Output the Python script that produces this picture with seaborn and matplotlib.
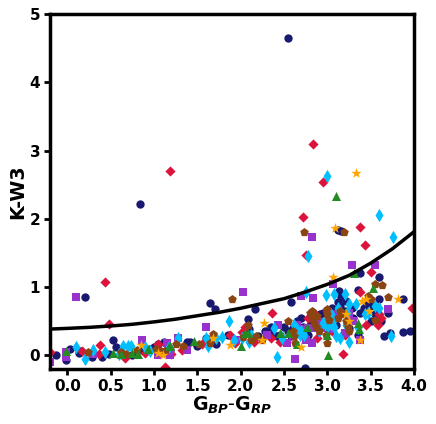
import matplotlib
matplotlib.use("Agg")
import matplotlib.pyplot as plt
import seaborn as sns
import pandas as pd

navy = [(2.55,4.65),(0.84,2.22),(0.2,0.85),(3.12,1.84),(3.16,1.82),(1.65,.77),(1.7,.68),(2.17,.68),(2.58,.78),(3.38,1.2),(3.6,1.15),(3.35,.95),(3.87,.82),(3.7,.62),(3.65,.28),(3.72,.33),(3.87,.34),(3.95,.36),(3.62,.5),(3.14,.94),(3.16,.85),(3.12,.78),(-.13,0),(-.02,-.07),(.03,.1),(.14,.03),(.16,.06),(.28,-.02),(.4,-.02),(.48,.02),(.53,.23),(.56,.12),(.62,.03),(.75,.0),(.86,.08),(.95,.1),(1.0,.12),(1.05,.16),(1.12,.2),(1.16,.14),(1.18,.08),(1.38,.19),(1.42,.19),(1.5,.14),(1.6,.25),(1.72,.16),(1.85,.3),(2.1,.38),(2.08,.53),(2.2,.28),(2.28,.36),(2.34,.4),(2.36,.33),(2.42,.28),(2.45,.3),(2.55,.35),(2.6,.4),(2.65,.5),(2.7,.55),(2.72,.42),(2.72,.3),(2.74,-.18),(2.8,.45),(2.85,.55),(2.9,.4),(2.95,.62),(3.0,.5),(3.05,.7),(3.08,.55),(3.1,.45),(3.2,.65),(3.25,.4),(3.3,.55),(3.35,.3),(3.42,.7),(3.5,.5),(3.55,.6),(3.6,.82),(2.35,.42),(2.5,.42),(2.58,.28),(2.78,.3),(2.92,.6),(3.15,.72),(3.22,.8),(3.28,.7),(3.38,.62),(3.45,.78),(3.5,.72)]
crimson = [(1.18,2.7),(2.83,3.09),(2.95,2.54),(2.72,2.02),(3.38,1.88),(2.75,1.47),(3.44,1.61),(.43,1.07),(.48,.46),(3.5,1.22),(3.98,.7),(3.18,.02),(1.13,-.17),(-.2,.05),(.17,.06),(.36,.02),(.38,.15),(.67,-.04),(.9,.03),(1.05,.17),(1.12,.05),(1.2,.02),(1.32,.08),(1.55,.17),(1.88,.3),(2.02,.34),(2.05,.42),(2.36,.62),(2.35,.25),(2.45,.2),(2.62,.3),(2.78,.55),(2.88,.25),(2.92,.45),(3.0,.65),(3.05,.35),(3.2,.3),(3.25,.55),(3.38,.93),(3.45,.45),(3.6,.6),(3.62,.55),(2.15,.2),(1.93,.18),(2.85,.62),(2.9,.52),(3.1,.62),(3.58,.45)]
orchid = [(.1,.86),(2.03,.93),(2.82,1.73),(3.29,1.32),(3.55,1.33),(3.06,1.05),(2.7,.87),(2.83,.84),(2.63,-.06),(-.2,-.1),(-.02,.05),(-.01,-.03),(.3,.02),(.86,.22),(1.05,0),(1.15,.18),(1.18,.0),(1.28,.25),(1.38,.08),(1.6,.41),(1.95,.22),(2.43,.45),(2.53,.18),(2.6,.3),(2.65,.45),(2.75,.22),(2.78,.4),(2.82,.18),(2.88,.5),(3.0,.4),(3.1,.6),(3.15,.62),(3.2,.32),(3.3,.5),(3.38,.22),(3.7,.68),(2.3,.3),(2.72,.38),(2.85,.4),(3.02,.38),(3.25,.62)]
sky = [(3.0,2.63),(3.6,2.06),(3.76,1.74),(2.78,1.45),(2.75,.93),(2.42,-.03),(2.98,.88),(3.08,.9),(3.2,.9),(3.25,.75),(3.33,.75),(3.47,.62),(3.55,.72),(3.6,.7),(3.43,.6),(3.73,.28),(3.23,.62),(3.12,.7),(3.04,.6),(.1,.12),(.2,-.05),(.3,.08),(.43,.05),(.6,.02),(.64,.13),(.7,.13),(.73,.14),(.9,.12),(.95,.07),(1.17,.12),(1.28,.26),(1.6,.25),(1.62,.14),(1.72,.25),(1.78,.27),(1.87,.5),(1.92,.22),(2.02,.25),(2.1,.2),(2.12,.3),(2.38,.4),(2.48,.25),(2.62,.45),(2.7,.35),(2.73,.3),(2.9,.35),(2.95,.48),(3.0,.42),(3.02,.55),(3.06,.5),(3.08,.42),(3.1,.28),(3.15,.25),(3.22,.45),(3.25,.2),(3.35,.4),(2.65,.38),(2.68,.3),(3.0,.5),(3.04,.46)]
brown = [(2.73,1.8),(3.19,1.8),(1.9,.83),(3.55,1.05),(3.63,1.03),(3.47,.87),(3.7,.85),(.24,.05),(.62,.05),(.68,.02),(.8,.08),(1.02,.1),(1.08,.07),(1.13,.06),(1.25,.17),(1.33,.13),(1.52,.16),(1.65,.18),(1.68,.31),(2.08,.45),(2.03,.27),(2.18,.28),(2.12,.22),(2.25,.23),(2.55,.5),(2.6,.35),(2.62,.28),(2.63,.18),(2.8,.62),(2.83,.55),(2.85,.48),(2.87,.42),(2.9,.35),(2.98,.3),(3.0,.18),(3.0,.6),(3.02,.52),(3.0,.68),(3.12,.55),(3.18,.6),(3.22,.5),(3.25,.35),(3.55,.52),(3.5,.82),(2.82,.65),(2.88,.58),(3.15,.65),(3.24,.42)]
green = [(3.1,2.34),(3.31,1.2),(3.53,.98),(3.01,0),(2.0,.13),(-.01,.07),(.53,.03),(.62,.02),(.75,.03),(.82,.02),(.93,.1),(1.17,.14),(1.18,.13),(1.46,.21),(2.05,.33),(2.08,.32),(2.45,.32),(2.55,.33),(2.65,.17),(2.77,.42),(3.0,.3),(3.35,.48),(3.37,.38)]
orange = [(3.33,2.67),(3.09,1.87),(3.07,1.15),(3.4,.8),(3.82,.82),(1.05,.03),(1.1,.0),(.85,.15),(1.68,.25),(1.88,.15),(2.25,.23),(2.27,.47),(2.7,.12),(3.22,.6),(3.38,.22),(3.25,.5),(3.48,.65),(3.45,.83)]

curve_x = [-.2,0,.25,.5,.75,1,1.25,1.5,1.75,2,2.25,2.5,2.75,3,3.25,3.5,3.75,4]
curve_y = [.385,.395,.41,.43,.455,.49,.53,.58,.63,.69,.76,.83,.93,1.04,1.17,1.35,1.56,1.81]

series = [(navy,"o","midnightblue",36),(crimson,"D","crimson",27),(orchid,"s","darkorchid",30),
          (sky,"d","deepskyblue",46),(brown,"p","saddlebrown",42),(green,"^","forestgreen",42),(orange,"*","orange",62)]

sns.set_style("white")
plt.rcParams['mathtext.fontset']='dejavusans'
plt.rcParams['text.color']='black'
plt.rcParams['axes.labelcolor']='black'
plt.rcParams['xtick.color']='black'
plt.rcParams['ytick.color']='black'
fig = plt.figure(figsize=(4.36,4.24), dpi=100)
ax = fig.add_axes([50/436, 1-369/424, 364/436, 355/424])
for pts,m,c,s in series:
    df = pd.DataFrame(pts, columns=["x","y"])
    sns.scatterplot(data=df, x="x", y="y", marker=m, color=c, s=s, linewidth=0, ax=ax, zorder=2)
sns.lineplot(x=curve_x, y=curve_y, color="black", linewidth=2.5, ax=ax, zorder=3)
ax.set_xlim(-.2,4); ax.set_ylim(-.2,5)
ax.set_xticks([0,.5,1,1.5,2,2.5,3,3.5,4]); ax.set_yticks(range(6))
ax.set_xlabel(r"$\mathbf{G}_{\mathbfit{BP}}\mathbf{\text{-}G}_{\mathbfit{RP}}$", fontsize=13.6, labelpad=1, color="black")
ax.set_ylabel("K-W3", fontsize=13.8, fontweight="bold", labelpad=2, color="black")
ax.tick_params(axis="both", direction="out", length=4, width=2, color="black", labelcolor="black", labelsize=11, pad=3, left=True, bottom=True)
for l in ax.get_xticklabels()+ax.get_yticklabels():
    l.set_fontweight("bold")
for sp in ax.spines.values():
    sp.set_linewidth(2.5); sp.set_color("black"); sp.set_zorder(5)
fig.savefig("out.png", dpi=100)
